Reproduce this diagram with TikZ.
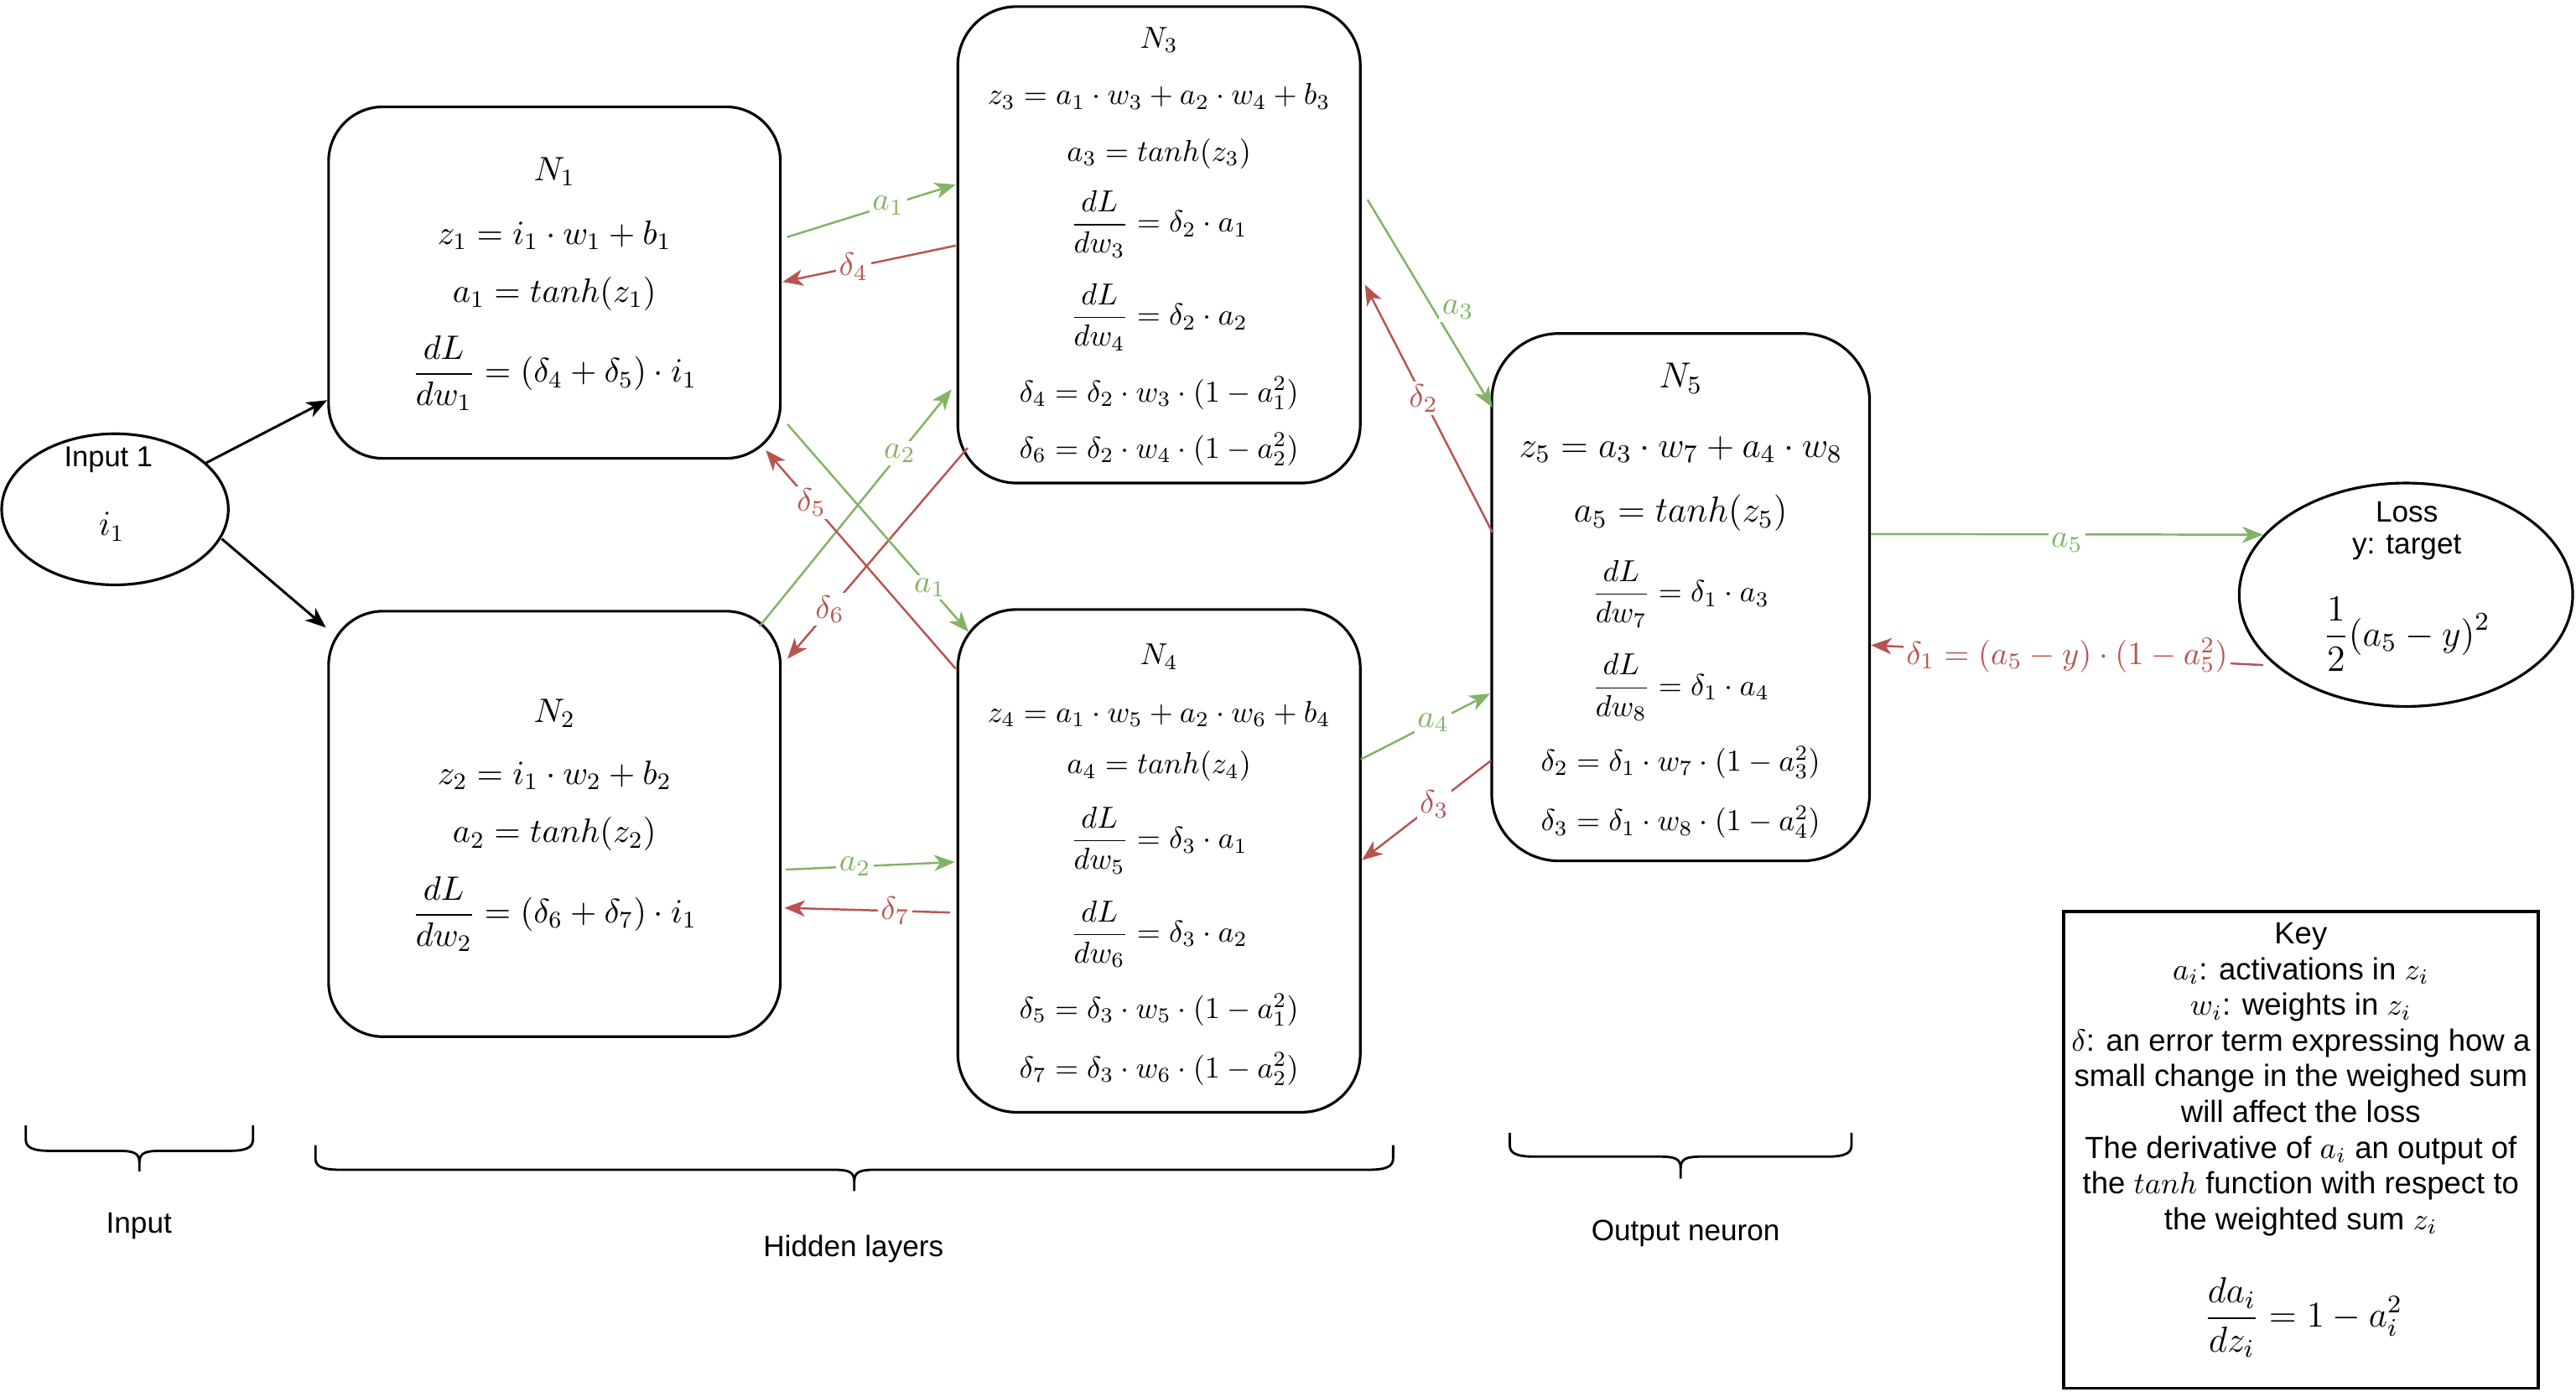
\RequirePackage{fix-cm}
\documentclass[tikz,border=0pt]{standalone}
\usepackage{fontspec}
\newfontfamily\hv{Liberation Sans}
\usetikzlibrary{arrows.meta,calc,fit,shapes.geometric}
\definecolor{fwd}{HTML}{82B366}
\definecolor{bwd}{HTML}{B85450}
\newcommand\fsz[1]{\fontsize{#1}{#1}\selectfont}
\newcommand\mybrace[5]{%
  \draw[brc] (#1,#3) -- (#1,#4-7) .. controls (#1,#4-2) and (#1+4,#4) .. (#1+15,#4) -- ({(#1+#2)/2-13},#4) .. controls ({(#1+#2)/2-4},#4) and ({(#1+#2)/2},#4+1) .. ({(#1+#2)/2},#4+7) -- ({(#1+#2)/2},#5);
  \draw[brc] (#2,#3) -- (#2,#4-7) .. controls (#2,#4-2) and (#2-4,#4) .. (#2-15,#4) -- ({(#1+#2)/2+13},#4) .. controls ({(#1+#2)/2+4},#4) and ({(#1+#2)/2},#4+1) .. ({(#1+#2)/2},#4+7);
}
\begin{document}
\begin{tikzpicture}[x=0.01959cm,y=-0.01959cm,
  nbox/.style={draw, line width=0.9pt, inner sep=0pt},
  tx/.style={inner sep=0pt, anchor=center},
  lbl/.style={fill=white, inner sep=1pt, font=\fsz{11}},
  tip/.style={-{Stealth[length=7pt,width=5.5pt,inset=2pt]}},
  fw/.style={draw=fwd, line width=0.7pt, tip},
  bw/.style={draw=bwd, line width=0.7pt, tip},
  blk/.style={draw=black, line width=0.85pt, tip},
  brc/.style={draw=black, line width=0.8pt},
  sans/.style={inner sep=0pt, anchor=center, font=\hv\fsz{10}},
  fa/.style={tx, font=\fsz{11.5}},
  fb/.style={tx, font=\fsz{10.3}},
  fc/.style={tx, font=\fsz{12.3}}
]
\useasboundingbox (0,0) rectangle (1568,847);

% ---- input
\node[draw, ellipse, line width=0.9pt, minimum width=2.703cm, minimum height=1.802cm, inner sep=0pt] (In) at (70,310) {};
\node[sans, font=\hv\fsz{9.8}] (InA) at (66,280) {Input 1};
\node[tx, font=\fsz{12}] (InB) at (68,320.6) {$i_1$};

% ---- neuron boxes
\node[nbox, rounded corners=0.65cm, fit={(200,65) (475,279)}] (N1) {};
\node[nbox, rounded corners=0.65cm, fit={(200,372) (475,631)}] (N2) {};
\node[nbox, rounded corners=0.7cm, fit={(583,4) (828,294)}] (N3) {};
\node[nbox, rounded corners=0.7cm, fit={(583,371) (828,677)}] (N4) {};
\node[nbox, rounded corners=0.8cm, fit={(908,203) (1138,524)}] (N5) {};

% N1
\node[fa] (N1a) at (337.5,104.6) {$N_1$};
\node[fa] (N1b) at (337.5,143.3) {$z_1 = i_1\cdot w_1 + b_1$};
\node[fa] (N1c) at (337.5,178.7) {$a_1 = tanh(z_1)$};
\node[fa] (N1d) at (337.5,227.2) {$\displaystyle\frac{dL}{dw_1} = (\delta_4+\delta_5)\cdot i_1$};
% N2
\node[fa] (N2a) at (337.5,434.3) {$N_2$};
\node[fa] (N2b) at (337.5,472) {$z_2 = i_1\cdot w_2 + b_2$};
\node[fa] (N2c) at (337.5,507.8) {$a_2 = tanh(z_2)$};
\node[fa] (N2d) at (337.5,556.4) {$\displaystyle\frac{dL}{dw_2} = (\delta_6+\delta_7)\cdot i_1$};
% N3
\node[fb] (N3a) at (705.5,24.4) {$N_3$};
\node[fb] (N3b) at (705.5,58.6) {$z_3 = a_1\cdot w_3 + a_2\cdot w_4 + b_3$};
\node[fb] (N3c) at (705.5,93.4) {$a_3 = tanh(z_3)$};
\node[fb] (N3d) at (705.5,136.4) {$\displaystyle\frac{dL}{dw_3} = \delta_2\cdot a_1$};
\node[fb] (N3e) at (705.5,193) {$\displaystyle\frac{dL}{dw_4} = \delta_2\cdot a_2$};
\node[fb] (N3f) at (705.5,239.3) {$\delta_4 = \delta_2\cdot w_3\cdot(1-a_1^2)$};
\node[fb] (N3g) at (705.5,273.5) {$\delta_6 = \delta_2\cdot w_4\cdot(1-a_2^2)$};
% N4
\node[fb] (N4a) at (705.5,399.7) {$N_4$};
\node[fb] (N4b) at (705.5,434.7) {$z_4 = a_1\cdot w_5 + a_2\cdot w_6 + b_4$};
\node[fb] (N4c) at (705.5,466.4) {$a_4 = tanh(z_4)$};
\node[fb] (N4d) at (705.5,511.5) {$\displaystyle\frac{dL}{dw_5} = \delta_3\cdot a_1$};
\node[fb] (N4e) at (705.5,568.5) {$\displaystyle\frac{dL}{dw_6} = \delta_3\cdot a_2$};
\node[fb] (N4f) at (705.5,614.7) {$\delta_5 = \delta_3\cdot w_5\cdot(1-a_1^2)$};
\node[fb] (N4g) at (705.5,650.7) {$\delta_7 = \delta_3\cdot w_6\cdot(1-a_2^2)$};
% N5
\node[fc] (N5a) at (1023,230.4) {$N_5$};
\node[fc] (N5b) at (1023,273.6) {$z_5 = a_3\cdot w_7 + a_4\cdot w_8$};
\node[fc] (N5c) at (1023,312.4) {$a_5 = tanh(z_5)$};
\node[fb] (N5d) at (1023,361.4) {$\displaystyle\frac{dL}{dw_7} = \delta_1\cdot a_3$};
\node[fb] (N5e) at (1023,418.4) {$\displaystyle\frac{dL}{dw_8} = \delta_1\cdot a_4$};
\node[fb] (N5f) at (1023,464) {$\delta_2 = \delta_1\cdot w_7\cdot(1-a_3^2)$};
\node[fb] (N5g) at (1023,500.5) {$\delta_3 = \delta_1\cdot w_8\cdot(1-a_4^2)$};

% ---- loss
\node[draw, ellipse, line width=0.9pt, minimum width=3.977cm, minimum height=2.664cm, inner sep=0pt] (Loss) at (1464.5,362) {};
\node[sans] (LossA) at (1465,311.4) {Loss};
\node[sans] (LossB) at (1465,333) {y: target};
\node[tx, font=\fsz{12.5}] (LossC) at (1465,385.9) {$\displaystyle\frac{1}{2}(a_5-y)^2$};

% ---- key
\node[draw, line width=1.1pt, inner sep=0pt, fit={(1256,555) (1545,845)}] (Key) {};
\node[inner sep=0pt, anchor=center, align=center, font=\hv\fontsize{10.4}{12.12}\selectfont] (KeyT) at (1400.5,657) {Key\\
$a_i$: activations in $z_i$\\
$w_i$: weights in $z_i$\\
$\delta$: an error term expressing how a\\
small change in the weighed sum\\
will affect the loss\\
The derivative of $a_i$ an output of\\
the $tanh$ function with respect to\\
the weighted sum $z_i$};
\node[tx, font=\fsz{12.3}] (KeyF) at (1402,802) {$\displaystyle\frac{da_i}{dz_i} = 1 - a_i^2$};

% ---- connectors
\draw[blk] ($(In.center)+(55,-28)$) -- ($(N1.west)+(0,71.6)$);
\draw[blk] ($(In.center)+(65,18)$) -- ($(N2.west)+(-0.8,-119.5)$);

\draw[fw] ($(N1.east)+(3.3,-27.7)$) -- node[lbl, text=fwd, pos=0.6] (La1) {$a_1$} ($(N3.west)+(-0.5,-36.7)$);
\draw[bw] ($(N3.west)+(-0.5,0.5)$) -- node[lbl, text=bwd, pos=0.59] (Ld4) {$\delta_4$} ($(N1.east)+(0.5,-0.4)$);
\draw[fw] ($(N2.center)+(124.8,-120.2)$) -- node[lbl, text=fwd, pos=0.73] (La2) {$a_2$} ($(N3.west)+(-3,88)$);
\draw[bw] ($(N3.west)+(6.8,123.6)$) -- node[lbl, text=bwd, pos=0.765] (Ld6) {$\delta_6$} ($(N2.east)+(3.5,-100.5)$);
\draw[fw] ($(N1.east)+(3.5,86.2)$) -- node[lbl, text=fwd, pos=0.786] (La1b) {$a_1$} ($(N4.west)+(7.4,-139.3)$);
\draw[bw] ($(N4.west)+(-0.5,-117)$) -- node[lbl, text=bwd, pos=0.76] (Ld5) {$\delta_5$} ($(N1.east)+(-9.7,102)$);
\draw[fw] ($(N2.east)+(2.5,27.8)$) -- node[lbl, text=fwd, pos=0.41] (La2b) {$a_2$} ($(N4.west)+(-1,0.7)$);
\draw[bw] ($(N4.west)+(-4,31.4)$) -- node[lbl, text=bwd, pos=0.33] (Ld7) {$\delta_7$} ($(N2.east)+(1.6,51.1)$);
\draw[fw] ($(N3.east)+(3.6,-27.5)$) -- node[lbl, text=fwd, pos=0.53, xshift=0.29cm] (La3) {$a_3$} ($(N5.west)+(1.2,-115.5)$);
\draw[bw] ($(N5.west)+(1.2,-39.5)$) -- node[lbl, text=bwd, pos=0.54] (Ld2) {$\delta_2$} ($(N3.east)+(2,24.2)$);
\draw[fw] ($(N4.east)+(-0.5,-61.8)$) -- node[lbl, text=fwd, pos=0.56] (La4) {$a_4$} ($(N5.west)+(-0.2,58.7)$);
\draw[bw] ($(N5.west)+(0.4,99.4)$) -- node[lbl, text=bwd, pos=0.44] (Ld3) {$\delta_3$} ($(N4.east)+(0.2,-0.4)$);
\draw[fw] ($(N5.east)+(0,-38.5)$) -- node[lbl, text=fwd, pos=0.5, yshift=-0.1cm] (La5) {$a_5$} ($(Loss.center)+(-87,-36.5)$);
\draw[bw] ($(Loss.center)+(-87,42.8)$) -- node[lbl, text=bwd, pos=0.5] (Ld1) {$\delta_1 = (a_5 - y)\cdot(1-a_5^2)$} ($(N5.east)+(0,29.2)$);

% ---- braces and captions
\mybrace{15.7}{154}{685}{700.5}{713}
\mybrace{192}{848}{697}{712}{725}
\mybrace{919}{1127}{689.5}{704}{717.5}
\node[sans] (CapIn) at (84.6,746) {Input};
\node[sans] (CapHid) at (519.5,760) {Hidden layers};
\node[sans] (CapOut) at (1026,750.7) {Output neuron};
\end{tikzpicture}
\end{document}
